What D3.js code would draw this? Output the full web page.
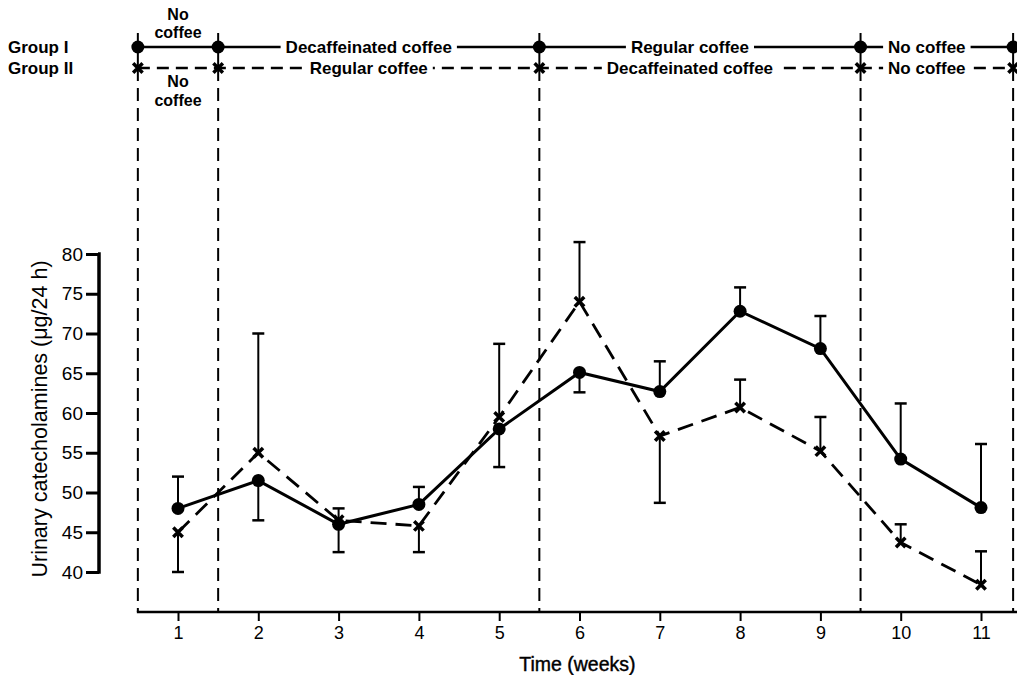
<!DOCTYPE html>
<html>
<head>
<meta charset="utf-8">
<script src="https://cdn.jsdelivr.net/npm/d3@7"></script>
<style>
  body { margin: 0; background: #fff; }
  svg { display: block; font-family: "Liberation Sans", Arial, sans-serif; }
</style>
</head>
<body>
<div id="chart"></div>
<script>
// Dữ liệu
const weeks = [1, 2, 3, 4, 5, 6, 7, 8, 9, 10, 11];
const groupI = [48, 51.5, 46, 48.5, 58, 65.1, 62.7, 72.8, 68.1, 54.2, 48.1];
const groupIErr = [52, 46.5, 42.5, 50.7, 53.2, 62.6, 66.5, 75.8, 72.2, 61.2, 56.1];
const groupII = [45, 55, 46.5, 45.8, 59.5, 74, 57.1, 60.7, 55.2, 43.7, 38.4];
const groupIIErr = [40, 70, 48, 42.5, 68.7, 81.5, 48.7, 64.2, 59.5, 46.0, 42.6];
const yTicks = [40, 45, 50, 55, 60, 65, 70, 75, 80];
const phaseBounds = [0.5, 1.5, 5.5, 9.5, 11.4];
const phasesI = ["No coffee", "Decaffeinated coffee", "Regular coffee", "No coffee"];
const phasesII = ["No coffee", "Regular coffee", "Decaffeinated coffee", "No coffee"];

const W = 1017, H = 675;
const svg = d3.select("#chart").append("svg")
    .attr("width", W)
    .attr("height", H);

const x = d3.scaleLinear().domain([1, 11]).range([178, 981]);
const y = d3.scaleLinear().domain([40, 80]).range([572, 254]);

const rowI = 47, rowII = 68, axisY = 612;
const labelFont = "17px";

// Đường phân chia giai đoạn
phaseBounds.forEach(b => {
    svg.append("line")
        .attr("x1", x(b)).attr("x2", x(b))
        .attr("y1", 33).attr("y2", rowII)
        .attr("stroke", "#000").attr("stroke-width", 2);
    svg.append("line")
        .attr("x1", x(b)).attr("x2", x(b))
        .attr("y1", rowII).attr("y2", axisY)
        .attr("stroke", "#000").attr("stroke-width", 2)
        .attr("stroke-dasharray", "13,7");
});

// Hàng nhóm phía trên
function drawRow(rowY, labels, solid, marker, firstAbove) {
    svg.append("line")
        .attr("x1", x(phaseBounds[0])).attr("x2", x(phaseBounds[phaseBounds.length - 1]))
        .attr("y1", rowY).attr("y2", rowY)
        .attr("stroke", "#000").attr("stroke-width", 2.5)
        .attr("stroke-dasharray", solid ? null : "12,7");

    labels.forEach((lab, i) => {
        const cx = (x(phaseBounds[i]) + x(phaseBounds[i + 1])) / 2;
        if (i === 0) {
            const ys = firstAbove ? [rowY - 27, rowY - 9] : [rowY + 19, rowY + 38];
            ["No", "coffee"].forEach((t, k) => {
                svg.append("text")
                    .attr("x", cx).attr("y", ys[k])
                    .attr("text-anchor", "middle")
                    .style("font-size", "16px").style("font-weight", "bold")
                    .text(t);
            });
            return;
        }
        const t = svg.append("text")
            .attr("x", cx - 10).attr("y", rowY + 6)
            .attr("text-anchor", "middle")
            .style("font-size", labelFont).style("font-weight", "bold")
            .text(lab);
        const bb = t.node().getBBox();
        svg.insert("rect", () => t.node())
            .attr("x", bb.x - 5).attr("y", rowY - 4)
            .attr("width", bb.width + 10).attr("height", 8)
            .attr("fill", "#fff");
    });

    phaseBounds.forEach(b => {
        if (marker === "circle") {
            svg.append("circle").attr("cx", x(b)).attr("cy", rowY).attr("r", 6.5).attr("fill", "#000");
        } else {
            svg.append("path")
                .attr("transform", `translate(${x(b)},${rowY})`)
                .attr("d", d3.symbol(d3.symbolX, 60)())
                .attr("stroke", "#000").attr("stroke-width", 3.5).attr("fill", "none");
        }
    });
}
drawRow(rowI, phasesI, true, "circle", true);
drawRow(rowII, phasesII, false, "x", false);

svg.append("text").attr("x", 8).attr("y", rowI + 6)
    .style("font-size", labelFont).style("font-weight", "bold").text("Group I");
svg.append("text").attr("x", 8).attr("y", rowII + 6)
    .style("font-size", labelFont).style("font-weight", "bold").text("Group II");

// Trục Y
const yAxis = svg.append("g")
    .attr("transform", "translate(99,0)")
    .call(d3.axisLeft(y).tickValues(yTicks).tickSize(13).tickPadding(3));
yAxis.select(".domain").attr("d", `M-1,${y(80)}H0V${y(40)}H-1`).attr("stroke-width", 3.5);
yAxis.selectAll(".tick line").attr("stroke-width", 3);
yAxis.selectAll(".tick text")
    .style("font-size", "19px").style("font-family", "Liberation Sans, Arial, sans-serif");

svg.append("text")
    .attr("transform", `translate(47,${(y(40) + y(80)) / 2 + 6}) rotate(-90)`)
    .attr("text-anchor", "middle")
    .style("font-size", "21.5px")
    .text("Urinary catecholamines (\u03bcg/24 h)");

// Trục X
svg.append("line")
    .attr("x1", x(phaseBounds[0]) - 1).attr("x2", W)
    .attr("y1", axisY).attr("y2", axisY)
    .attr("stroke", "#000").attr("stroke-width", 2.5);
const xAxis = svg.append("g")
    .attr("transform", `translate(0,${axisY})`)
    .call(d3.axisBottom(x).tickValues(weeks).tickSize(9).tickPadding(5).tickFormat(d3.format("d")));
xAxis.select(".domain").remove();
xAxis.selectAll(".tick line").attr("stroke-width", 2);
xAxis.selectAll(".tick text")
    .style("font-size", "18px")
    .style("font-family", "'Liberation Sans Narrow', 'Liberation Sans', sans-serif");

svg.append("text")
    .attr("x", (x(5) + x(6)) / 2 + 38).attr("y", 671)
    .attr("text-anchor", "middle")
    .style("font-size", "19.5px")
    .style("font-weight", "500")
    .style("stroke", "#000").style("stroke-width", 0.4)
    .text("Time (weeks)");

// Thanh sai số
function drawErr(vals, errs) {
    weeks.forEach((w, i) => {
        svg.append("line")
            .attr("x1", x(w)).attr("x2", x(w))
            .attr("y1", y(vals[i])).attr("y2", y(errs[i]))
            .attr("stroke", "#000").attr("stroke-width", 2);
        svg.append("line")
            .attr("x1", x(w) - 6).attr("x2", x(w) + 6)
            .attr("y1", y(errs[i])).attr("y2", y(errs[i]))
            .attr("stroke", "#000").attr("stroke-width", 2.5);
    });
}
drawErr(groupI, groupIErr);
drawErr(groupII, groupIIErr);

// Đường dữ liệu
const line = d3.line().x((d, i) => x(weeks[i])).y(d => y(d));
svg.append("path").datum(groupII)
    .attr("d", line).attr("fill", "none")
    .attr("stroke", "#000").attr("stroke-width", 2.8)
    .attr("stroke-dasharray", "16,9");
svg.append("path").datum(groupI)
    .attr("d", line).attr("fill", "none")
    .attr("stroke", "#000").attr("stroke-width", 3);

svg.selectAll(".ptI").data(groupI).enter().append("circle")
    .attr("cx", (d, i) => x(weeks[i])).attr("cy", d => y(d))
    .attr("r", 6.5).attr("fill", "#000");
svg.selectAll(".ptII").data(groupII).enter().append("path")
    .attr("transform", (d, i) => `translate(${x(weeks[i])},${y(d)})`)
    .attr("d", d3.symbol(d3.symbolX, 60)())
    .attr("stroke", "#000").attr("stroke-width", 3.5).attr("fill", "none");
</script>
</body>
</html>
